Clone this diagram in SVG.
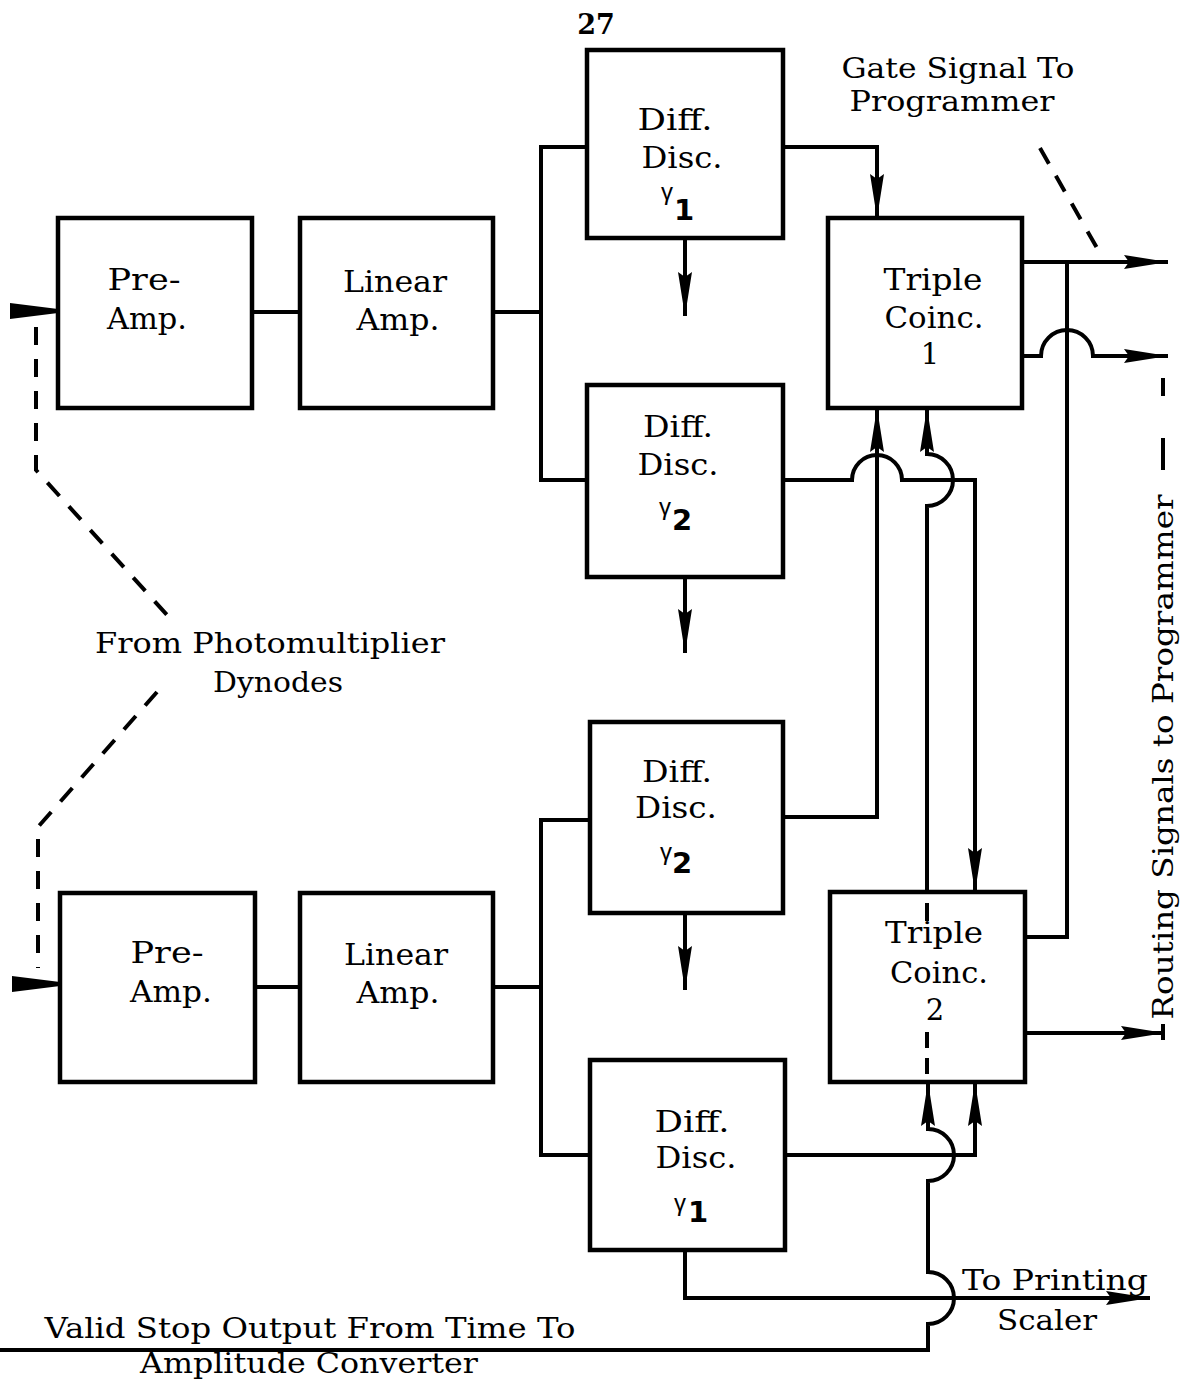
<svg xmlns="http://www.w3.org/2000/svg" width="1180" height="1382" viewBox="0 0 1180 1382">
<style>
.box{fill:#fff;stroke:#000;stroke-width:4.5}
.w{fill:none;stroke:#000;stroke-width:4;stroke-linejoin:miter}
.dash{fill:none;stroke:#000;stroke-width:4;stroke-dasharray:18 14}
text{font-family:"DejaVu Serif","Liberation Serif",serif;font-size:27px;text-anchor:middle;fill:#000}
.b{font-size:29px}
.g{font-family:"Liberation Sans","DejaVu Sans",sans-serif;font-size:24px}
.n{font-family:"DejaVu Sans","Liberation Sans",sans-serif;font-size:29px;font-weight:bold}
</style>
<defs>
<marker id="ah" viewBox="0 0 44 14" refX="44" refY="7" markerWidth="44" markerHeight="14" markerUnits="userSpaceOnUse" orient="auto">
<path d="M0,0 L44,7 L0,14 L5,7 Z" fill="#000"/>
</marker>
</defs>

<text x="596" y="34" style="font-weight:bold;font-size:27px">27</text>

<g id="preamp1"><rect class="box" x="58" y="218" width="194" height="190"/>
<text class="b" x="144" y="290" textLength="73" lengthAdjust="spacingAndGlyphs">Pre-</text>
<text class="b" x="147" y="329" textLength="80" lengthAdjust="spacingAndGlyphs">Amp.</text></g>
<g id="linamp1"><rect class="box" x="300" y="218" width="193" height="190"/>
<text class="b" x="395" y="292" textLength="104" lengthAdjust="spacingAndGlyphs">Linear</text>
<text class="b" x="398" y="330" textLength="83" lengthAdjust="spacingAndGlyphs">Amp.</text></g>
<g id="dd1top"><rect class="box" x="587" y="50" width="196" height="188"/>
<text class="b" x="675" y="130" textLength="75" lengthAdjust="spacingAndGlyphs">Diff.</text>
<text class="b" x="682" y="168" textLength="81" lengthAdjust="spacingAndGlyphs">Disc.</text>
<text><tspan class="g" x="667" y="200">γ</tspan><tspan class="n" x="684" y="220">1</tspan></text></g>
<g id="dd2top"><rect class="box" x="587" y="385" width="196" height="192"/>
<text class="b" x="678" y="437" textLength="70" lengthAdjust="spacingAndGlyphs">Diff.</text>
<text class="b" x="678" y="475" textLength="81" lengthAdjust="spacingAndGlyphs">Disc.</text>
<text><tspan class="g" x="665" y="515">γ</tspan><tspan class="n" x="682" y="530">2</tspan></text></g>
<g id="tc1"><rect class="box" x="828" y="218" width="194" height="190"/>
<text class="b" x="933" y="290" textLength="99" lengthAdjust="spacingAndGlyphs">Triple</text>
<text class="b" x="934" y="328" textLength="99" lengthAdjust="spacingAndGlyphs">Coinc.</text>
<text class="b" x="930" y="364">1</text></g>
<g id="dd2bot"><rect class="box" x="590" y="722" width="193" height="191"/>
<text class="b" x="677" y="782" textLength="70" lengthAdjust="spacingAndGlyphs">Diff.</text>
<text class="b" x="676" y="818" textLength="82" lengthAdjust="spacingAndGlyphs">Disc.</text>
<text><tspan class="g" x="666" y="860">γ</tspan><tspan class="n" x="682" y="873">2</tspan></text></g>
<g id="preamp2"><rect class="box" x="60" y="893" width="195" height="189"/>
<text class="b" x="167" y="963" textLength="73" lengthAdjust="spacingAndGlyphs">Pre-</text>
<text class="b" x="171" y="1002" textLength="82" lengthAdjust="spacingAndGlyphs">Amp.</text></g>
<g id="linamp2"><rect class="box" x="300" y="893" width="193" height="189"/>
<text class="b" x="396" y="965" textLength="104" lengthAdjust="spacingAndGlyphs">Linear</text>
<text class="b" x="398" y="1003" textLength="83" lengthAdjust="spacingAndGlyphs">Amp.</text></g>
<g id="tc2"><rect class="box" x="830" y="892" width="195" height="190"/>
<text class="b" x="934" y="943" textLength="98" lengthAdjust="spacingAndGlyphs">Triple</text>
<text class="b" x="939" y="983" textLength="98" lengthAdjust="spacingAndGlyphs">Coinc.</text>
<text class="b" x="935" y="1020">2</text></g>
<g id="dd1bot"><rect class="box" x="590" y="1060" width="195" height="190"/>
<text class="b" x="692" y="1132" textLength="75" lengthAdjust="spacingAndGlyphs">Diff.</text>
<text class="b" x="696" y="1168" textLength="81" lengthAdjust="spacingAndGlyphs">Disc.</text>
<text><tspan class="g" x="680" y="1211">γ</tspan><tspan class="n" x="698" y="1222">1</tspan></text></g>

<g id="connectors">
<path class="w" d="M252,312 H300"/>
<path class="w" d="M493,312 H541"/>
<path class="w" d="M587,147 H541 V480 H587"/>
<path class="w" d="M685,238 V316" marker-end="url(#ah)"/>
<path class="w" d="M685,577 V653" marker-end="url(#ah)"/>
<path class="w" d="M783,147 H877 V218" marker-end="url(#ah)"/>
<path class="w" d="M783,480 H852 A25,25 0 0 1 902,480 H975 V892" marker-end="url(#ah)"/>
<path class="w" d="M927,892 V506 A26,26 0 0 0 927,454 V408" marker-end="url(#ah)"/>
<path class="w" d="M783,817 H877 V408" marker-end="url(#ah)"/>
<path class="w" d="M1022,262 H1168" marker-end="url(#ah)"/>
<path class="w" d="M1067,262 V937 H1025"/>
<path class="w" d="M1022,356 H1041 A26,26 0 0 1 1093,356 H1168" marker-end="url(#ah)"/>
<path class="w" d="M1025,1033 H1165" marker-end="url(#ah)"/>
<path class="w" d="M255,987 H300"/>
<path class="w" d="M493,987 H541"/>
<path class="w" d="M590,820 H541 V1155 H590"/>
<path class="w" d="M685,913 V990" marker-end="url(#ah)"/>
<path class="w" d="M785,1155 H975 V1082" marker-end="url(#ah)"/>
<path class="w" d="M685,1250 V1298 H1150" marker-end="url(#ah)"/>
<path class="w" d="M0,1350 H928 V1324 A26,26 0 0 0 928,1272 V1181 A26,26 0 0 0 928,1129 V1082" marker-end="url(#ah)"/>
<polygon points="10,303 58,309 58,313 10,319" fill="#000"/>
<polygon points="12,976 60,982 60,986 12,992" fill="#000"/>
<path class="dash" d="M36,327 V470 L167,615"/>
<path class="dash" d="M157,692 L38,827 V968"/>
<path class="dash" d="M1040,148 L1097,248"/>
<path class="w" d="M1163,378 V396 M1163,438 V470"/>
<path class="w" d="M1163,1024 V1040"/>
<path class="w" d="M927,903 V921"/>
<path class="dash" style="stroke-dasharray:16 10" d="M927,1032 V1080"/>
</g>

<text x="958" y="78" textLength="233" lengthAdjust="spacingAndGlyphs">Gate Signal To</text>
<text x="952" y="111" textLength="205" lengthAdjust="spacingAndGlyphs">Programmer</text>
<text x="270" y="653" textLength="350" lengthAdjust="spacingAndGlyphs">From Photomultiplier</text>
<text x="278" y="692" textLength="130" lengthAdjust="spacingAndGlyphs">Dynodes</text>
<text x="1055" y="1290" textLength="186" lengthAdjust="spacingAndGlyphs">To Printing</text>
<text x="1047" y="1330" textLength="100" lengthAdjust="spacingAndGlyphs">Scaler</text>
<text x="310" y="1338" textLength="531" lengthAdjust="spacingAndGlyphs">Valid Stop Output From Time To</text>
<text x="309" y="1373" textLength="338" lengthAdjust="spacingAndGlyphs">Amplitude Converter</text>
<text transform="translate(1173,757) rotate(-90)" style="font-size:28px" textLength="525" lengthAdjust="spacingAndGlyphs">Routing Signals to Programmer</text>
</svg>
